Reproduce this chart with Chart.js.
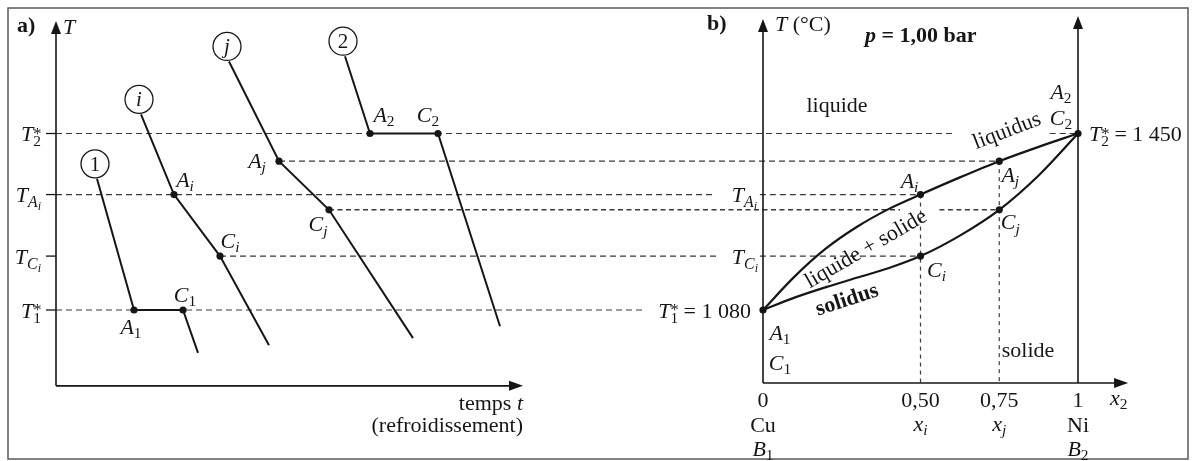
<!DOCTYPE html>
<html><head><meta charset="utf-8">
<script src="https://cdn.jsdelivr.net/npm/chart.js@4.4.1/dist/chart.umd.min.js"></script>
<style>html,body{margin:0;padding:0;background:#fff}#wrap{width:1193px;height:461px;position:relative}</style>
</head><body><div id="wrap"><canvas id="c"></canvas></div>
<script>
// ---------------- data ----------------
const T1s = 1080, T2s = 1450;                 // T1*, T2*  (°C)
const TAi = 1322, TCi = 1193, TAj = 1392, TCj = 1290;
const xi = 0.50, xj = 0.75;

// panel a : cooling curves  (time in arbitrary units, temperature in °C)
const curve1Time = [4.1, 7.8, 12.7, 14.2];
const curve1Temp = [1355, T1s, T1s, 990];
const curveITime = [8.5, 11.8, 16.4, 21.3];
const curveITemp = [1490, TAi, TCi, 1006];
const curveJTime = [17.3, 22.3, 27.3, 35.7];
const curveJTemp = [1601, TAj, TCj, 1021];
const curve2Time = [28.9, 31.4, 38.2, 44.4];
const curve2Temp = [1612, T2s, T2s, 1046];
const curveNames = ['1', 'i', 'j', '2'];

// panel b : phase diagram Cu–Ni
const liqX = [0, 0.1, 0.2, 0.3, 0.4, 0.5, 0.625, 0.75, 0.875, 1];
const liqT = [1080, 1150, 1209, 1255, 1292, TAi, 1358, TAj, 1422, 1450];
const solX = [0, 0.1, 0.2, 0.3, 0.4, 0.5, 0.625, 0.75, 0.875, 1];
const solT = [1080, 1106, 1128, 1148, 1168, TCi, 1236, TCj, 1362, 1450];
const xTickValues = [0, 0.5, 0.75, 1];
const xTickLabels = ['0', '0,50', '0,75', '1'];

// ---------------- layout ----------------
const SERIF = '"Liberation Serif","Times New Roman",serif';
const INK = '#161616';
const FS = 22;
const K = (T2s - T1s) / 176.5;
const Y_MAX = T2s + 133.5 * K, Y_MIN = Y_MAX - 461 * K;
const A_PX0 = 56, A_PXU = 10;     // panel a time scale
const B_PX0 = 763, B_PX1 = 1078;  // panel b composition scale
const L = { aOriginT: 921, aTopPx: 21, aEndTime: 46.7, bOriginT: 927, bTopL: 19, bTopR: 16, bEndX: 1.159 };

const pts = (xs, ys) => xs.map((x, i) => ({ x, y: ys[i] }));
const curveStyle = { showLine: true, borderColor: INK, borderWidth: 2, pointRadius: 0, fill: false };
const curves = [[curve1Time, curve1Temp], [curveITime, curveITemp], [curveJTime, curveJTemp], [curve2Time, curve2Temp]];
const markA = [];
curves.forEach(c => { markA.push({ x: c[0][1], y: c[1][1] }, { x: c[0][2], y: c[1][2] }); });
const markB = [{ x: 0, y: T1s }, { x: xi, y: TAi }, { x: xi, y: TCi }, { x: xj, y: TAj }, { x: xj, y: TCj }, { x: 1, y: T2s }];

const datasets = [
  ...curves.map(c => Object.assign({ data: pts(c[0], c[1]), xAxisID: 'x', yAxisID: 'y' }, curveStyle)),
  Object.assign({ data: pts(liqX, liqT), xAxisID: 'xb', yAxisID: 'y', cubicInterpolationMode: 'monotone' }, curveStyle, { borderWidth: 2.2 }),
  Object.assign({ data: pts(solX, solT), xAxisID: 'xb', yAxisID: 'y', cubicInterpolationMode: 'monotone' }, curveStyle, { borderWidth: 2.2 }),
  { data: markA, xAxisID: 'x', yAxisID: 'y', showLine: false, pointRadius: 3.6, pointBackgroundColor: INK, pointBorderWidth: 0 },
  { data: markB, xAxisID: 'xb', yAxisID: 'y', showLine: false, pointRadius: 3.6, pointBackgroundColor: INK, pointBorderWidth: 0 }
];

// ---------------- text helpers ----------------
function fnt(st, size) { return (st.includes('i') ? 'italic ' : '') + (st.includes('b') ? 'bold ' : '') + size.toFixed(1) + 'px ' + SERIF; }
function measure(ctx, parts, size) {
  let w = 0;
  parts.forEach(p => { ctx.font = fnt(p[1] || '', size * (p[2] || 1)); if (!p[4]) w += ctx.measureText(p[0]).width; });
  return w;
}
function rich(ctx, parts, x, y, align, size) {
  size = size || FS;
  const w = measure(ctx, parts, size);
  let cx = align === 'center' ? x - w / 2 : align === 'right' ? x - w : x;
  ctx.textAlign = 'left'; ctx.textBaseline = 'alphabetic'; ctx.fillStyle = INK;
  parts.forEach(p => {
    ctx.font = fnt(p[1] || '', size * (p[2] || 1));
    ctx.fillText(p[0], cx, y + (p[3] || 0) * size / 21);
    if (!p[4]) cx += ctx.measureText(p[0]).width;
  });
  return w;
}
const sub = (a, s, it) => [[a, 'i'], [s, it ? 'i' : '', 0.7, 4]];
const Tstar = n => [['T', 'i'], ['*', '', 0.75, -2, true], [n, '', 0.7, 5]];
const Tsub = s => [['T', 'i'], [s, 'i', 0.72, 5], ['i', 'i', 0.55, 8]];

function arrowUp(ctx, x, y) { ctx.beginPath(); ctx.moveTo(x, y); ctx.lineTo(x - 5, y + 13); ctx.lineTo(x + 5, y + 13); ctx.closePath(); ctx.fill(); }
function arrowRight(ctx, x, y) { ctx.beginPath(); ctx.moveTo(x, y); ctx.lineTo(x - 14, y - 5); ctx.lineTo(x - 14, y + 5); ctx.closePath(); ctx.fill(); }
function seg(ctx, x1, y1, x2, y2) { ctx.beginPath(); ctx.moveTo(x1, y1); ctx.lineTo(x2, y2); ctx.stroke(); }

// horizontal guide lines: start in panel a, end in panel b (gaps in composition units)
const guides = [
  { T: T2s, a: 0, b: 1, gaps: [[0.61, 0.91]] },
  { T: TAj, a: curveJTime[1], b: xj, gaps: [] },
  { T: TAi, a: 0, b: xi, gaps: [[-0.149, -0.01]] },
  { T: TCj, a: curveJTime[2], b: xj, gaps: [[0.435, 0.56]], heavy: true },
  { T: TCi, a: curveITime[2], b: xi, gaps: [[-0.149, -0.01]] },
  { T: T1s, a: 0, b: 0, gaps: [[-0.375, 0]] }
];

const diagram = {
  id: 'diagram',
  beforeDraw(chart) {
    const ctx = chart.ctx; ctx.save(); ctx.fillStyle = '#fff'; ctx.fillRect(0, 0, chart.width, chart.height); ctx.restore();
  },
  beforeDatasetsDraw(chart) {
    const ctx = chart.ctx, xa = chart.scales.x, xb = chart.scales.xb, y = chart.scales.y;
    ctx.save();
    // frame
    ctx.strokeStyle = '#5a5a5a'; ctx.lineWidth = 1.5; ctx.strokeRect(8, 8, 1180, 451);
    // dashed guides
    ctx.strokeStyle = '#3a3a3a';
    guides.forEach(g => {
      const yy = y.getPixelForValue(g.T);
      ctx.lineWidth = g.heavy ? 1.6 : 1.2; ctx.setLineDash(g.heavy ? [5, 3.5] : [6, 4]);
      let x0 = xa.getPixelForValue(g.a);
      const xEnd = xb.getPixelForValue(g.b);
      g.gaps.forEach(gp => { const g0 = xb.getPixelForValue(gp[0]), g1 = xb.getPixelForValue(gp[1]); seg(ctx, x0, yy, g0, yy); x0 = g1; });
      if (xEnd > x0) seg(ctx, x0, yy, xEnd, yy);
    });
    // vertical dotted lines in b
    ctx.setLineDash([4, 4]); ctx.lineWidth = 1.2;
    [[xi, TAi], [xj, TAj]].forEach(v => { const xx = xb.getPixelForValue(v[0]); seg(ctx, xx, y.getPixelForValue(v[1]), xx, y.getPixelForValue(L.bOriginT)); });
    ctx.setLineDash([]);
    // axes panel a
    ctx.strokeStyle = INK; ctx.fillStyle = INK; ctx.lineWidth = 1.6;
    const ax0 = xa.getPixelForValue(0), ay0 = y.getPixelForValue(L.aOriginT);
    seg(ctx, ax0, ay0, ax0, L.aTopPx + 8); arrowUp(ctx, ax0, L.aTopPx);
    const axEnd = xa.getPixelForValue(L.aEndTime);
    seg(ctx, ax0, ay0, axEnd - 8, ay0); arrowRight(ctx, axEnd, ay0);
    ctx.lineWidth = 1.3;
    [T2s, TAi, TCi, T1s].forEach(t => { const yy = y.getPixelForValue(t); seg(ctx, xa.getPixelForValue(-1), yy, ax0, yy); });
    // axes panel b
    ctx.lineWidth = 1.6;
    const bx0 = xb.getPixelForValue(0), bx1 = xb.getPixelForValue(1), by0 = y.getPixelForValue(L.bOriginT);
    seg(ctx, bx0, by0, bx0, L.bTopL + 8); arrowUp(ctx, bx0, L.bTopL);
    seg(ctx, bx1, by0, bx1, L.bTopR + 8); arrowUp(ctx, bx1, L.bTopR);
    const bxEnd = xb.getPixelForValue(L.bEndX);
    seg(ctx, bx0, by0, bxEnd - 8, by0); arrowRight(ctx, bxEnd, by0);
    ctx.restore();
  },
  afterDatasetsDraw(chart) {
    const ctx = chart.ctx, xa = chart.scales.x, xb = chart.scales.xb, y = chart.scales.y;
    const P = (s, v, t) => ({ x: chart.scales[s].getPixelForValue(v), y: y.getPixelForValue(t) });
    ctx.save();
    // circles with curve names
    curves.forEach((c, i) => {
      const p = P('x', c[0][0], c[1][0]);
      const cx = p.x - 2, cy = p.y - 15;
      ctx.beginPath(); ctx.arc(cx, cy, 14, 0, Math.PI * 2); ctx.fillStyle = '#fff'; ctx.fill();
      ctx.strokeStyle = INK; ctx.lineWidth = 1.3; ctx.stroke();
      const it = (curveNames[i] === 'i' || curveNames[i] === 'j');
      rich(ctx, [[curveNames[i], it ? 'i' : '']], cx, cy + 7, 'center', 21);
    });
    // labels next to points (dx, dy = offset of glyph centre)
    const at = (parts, s, v, t, dx, dy) => { const p = P(s, v, t); rich(ctx, parts, p.x + dx, p.y + dy + 7.5, 'center'); };
    at(sub('A', '1'), 'x', curve1Time[1], T1s, -3, 16);
    at(sub('C', '1'), 'x', curve1Time[2], T1s, 2, -16);
    at(sub('A', 'i', true), 'x', curveITime[1], TAi, 11, -15);
    at(sub('C', 'i', true), 'x', curveITime[2], TCi, 10, -16);
    at(sub('A', 'j', true), 'x', curveJTime[1], TAj, -22, -1);
    at(sub('C', 'j', true), 'x', curveJTime[2], TCj, -11, 14);
    at(sub('A', '2'), 'x', curve2Time[1], T2s, 14, -19);
    at(sub('C', '2'), 'x', curve2Time[2], T2s, -10, -19);
    at(sub('A', 'i', true), 'xb', xi, TAi, -11, -14);
    at(sub('C', 'i', true), 'xb', xi, TCi, 16, 13);
    at(sub('A', 'j', true), 'xb', xj, TAj, 11, 13);
    at(sub('C', 'j', true), 'xb', xj, TCj, 11, 12);
    at(sub('A', '1'), 'xb', 0, T1s, 17, 22);
    at(sub('C', '1'), 'xb', 0, T1s, 17, 52);
    at(sub('A', '2'), 'xb', 1, T2s, -17, -42);
    at(sub('C', '2'), 'xb', 1, T2s, -17, -16);

    // panel a axis texts
    rich(ctx, [['a)', 'b']], 17, 32, 'left');
    rich(ctx, [['T', 'i']], 63, 34, 'left');
    const ax = xa.getPixelForValue(-1.5);
    rich(ctx, Tstar('2'), ax, y.getPixelForValue(T2s) + 7.5, 'right');
    rich(ctx, Tsub('A'), ax, y.getPixelForValue(TAi) + 7.5, 'right');
    rich(ctx, Tsub('C'), ax, y.getPixelForValue(TCi) + 7.5, 'right');
    rich(ctx, Tstar('1'), ax, y.getPixelForValue(T1s) + 7.5, 'right');
    const axEnd = xa.getPixelForValue(L.aEndTime);
    rich(ctx, [['temps '], ['t', 'i']], axEnd, 410, 'right');
    rich(ctx, [['(refroidissement)']], axEnd, 432, 'right');

    // panel b texts
    const bx0 = xb.getPixelForValue(0), bx1 = xb.getPixelForValue(1);
    rich(ctx, [['b)', 'b']], 707, 30, 'left');
    rich(ctx, [['T', 'i'], [' (°C)']], bx0 + 12, 31, 'left');
    rich(ctx, [['p', 'bi'], [' = 1,00 bar', 'b']], 865, 42, 'left');
    rich(ctx, [['liquide']], 837, 112, 'center');
    rich(ctx, [['solide']], 1028, 357, 'center');
    rich(ctx, Tstar('2').concat([[' = 1 450']]), bx1 + 11, y.getPixelForValue(T2s) + 7.5, 'left');
    rich(ctx, Tstar('1').concat([[' = 1 080']]), bx0 - 12, y.getPixelForValue(T1s) + 7.5, 'right');
    rich(ctx, Tsub('A'), bx0 - 6, y.getPixelForValue(TAi) + 7.5, 'right');
    rich(ctx, Tsub('C'), bx0 - 5, y.getPixelForValue(TCi) + 7.5, 'right');
    // x ticks
    xTickValues.forEach((v, i) => { rich(ctx, [[xTickLabels[i]]], xb.getPixelForValue(v), 407, 'center'); });
    rich(ctx, [['Cu']], xb.getPixelForValue(0), 432, 'center');
    rich(ctx, sub('x', 'i', true), xb.getPixelForValue(xi), 431, 'center');
    rich(ctx, sub('x', 'j', true), xb.getPixelForValue(xj), 431, 'center');
    rich(ctx, [['Ni']], xb.getPixelForValue(1), 432, 'center');
    rich(ctx, sub('B', '1'), xb.getPixelForValue(0), 456, 'center');
    rich(ctx, sub('B', '2'), xb.getPixelForValue(1), 456, 'center');
    rich(ctx, sub('x', '2'), 1110, 405, 'left');
    // rotated region labels
    const rot = (parts, cx, cy, deg) => {
      ctx.save(); ctx.translate(cx, cy); ctx.rotate(deg * Math.PI / 180);
      rich(ctx, parts, 0, 6, 'center'); ctx.restore();
    };
    rot([['liquidus']], 1007, 131, -21);
    rot([['liquide + solide']], 866, 249, -30);
    rot([['solidus', 'b']], 847, 300, -18);
    ctx.restore();
  }
};

new Chart(document.getElementById('c'), {
  type: 'scatter',
  data: { datasets },
  options: {
    responsive: true, maintainAspectRatio: false, animation: false, events: [],
    layout: { padding: 0, autoPadding: false },
    plugins: { legend: { display: false }, tooltip: { enabled: false } },
    scales: {
      x: { type: 'linear', display: false, min: -A_PX0 / A_PXU, max: (1193 - A_PX0) / A_PXU },
      xb: { type: 'linear', axis: 'x', display: false, min: -B_PX0 / (B_PX1 - B_PX0), max: (1193 - B_PX0) / (B_PX1 - B_PX0) },
      y: { type: 'linear', display: false, min: Y_MIN, max: Y_MAX }
    }
  },
  plugins: [diagram]
});
</script>
</body></html>
